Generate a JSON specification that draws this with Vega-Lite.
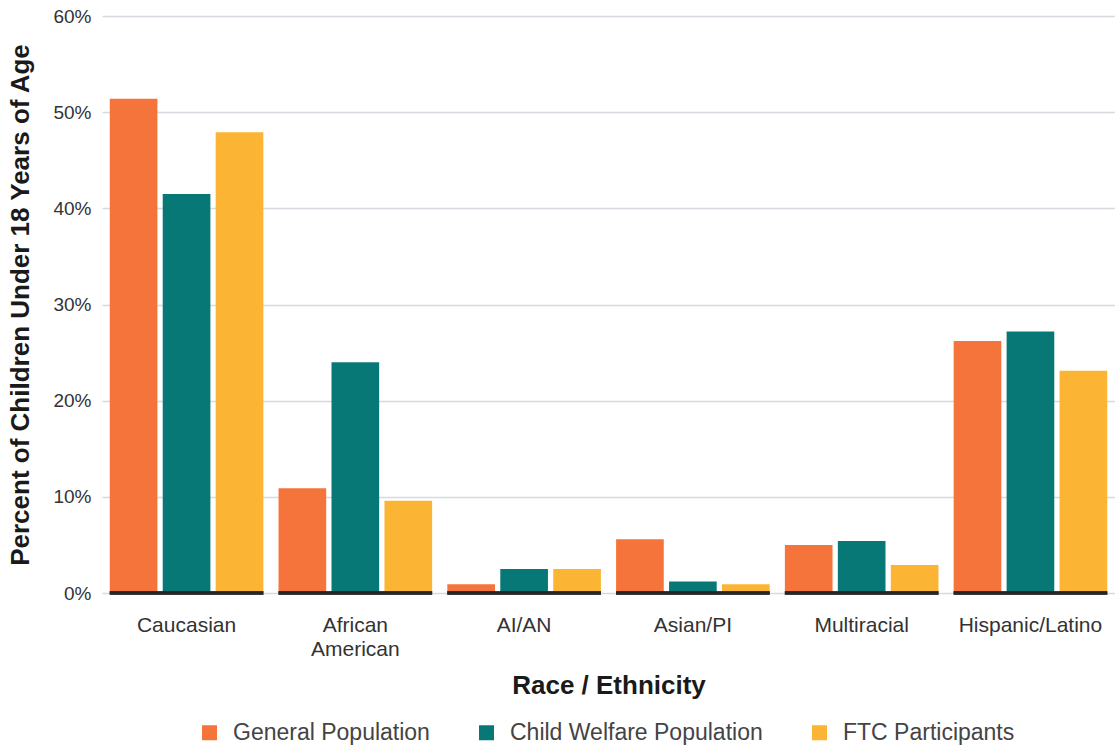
{
  "$schema": "https://vega.github.io/schema/vega-lite/v6.json",
  "autosize": "none",
  "width": 1013,
  "height": 577,
  "padding": {"left": 102, "top": 16, "right": 0, "bottom": 153},
  "background": "white",
  "config": {
    "font": "Liberation Sans",
    "view": {"stroke": null},
    "axis": {"labelColor": "#333333", "titleColor": "#1a1a1a"}
  },
  "data": {
    "values": [
      {"race": "Caucasian", "group": "General Population", "pct": 0.514},
      {"race": "Caucasian", "group": "Child Welfare Population", "pct": 0.415},
      {"race": "Caucasian", "group": "FTC Participants", "pct": 0.479},
      {"race": "African American", "group": "General Population", "pct": 0.109},
      {"race": "African American", "group": "Child Welfare Population", "pct": 0.240},
      {"race": "African American", "group": "FTC Participants", "pct": 0.096},
      {"race": "AI/AN", "group": "General Population", "pct": 0.009},
      {"race": "AI/AN", "group": "Child Welfare Population", "pct": 0.025},
      {"race": "AI/AN", "group": "FTC Participants", "pct": 0.025},
      {"race": "Asian/PI", "group": "General Population", "pct": 0.056},
      {"race": "Asian/PI", "group": "Child Welfare Population", "pct": 0.012},
      {"race": "Asian/PI", "group": "FTC Participants", "pct": 0.009},
      {"race": "Multiracial", "group": "General Population", "pct": 0.050},
      {"race": "Multiracial", "group": "Child Welfare Population", "pct": 0.054},
      {"race": "Multiracial", "group": "FTC Participants", "pct": 0.029},
      {"race": "Hispanic/Latino", "group": "General Population", "pct": 0.262},
      {"race": "Hispanic/Latino", "group": "Child Welfare Population", "pct": 0.272},
      {"race": "Hispanic/Latino", "group": "FTC Participants", "pct": 0.231}
    ]
  },
  "encoding": {
    "x": {
      "field": "race",
      "type": "nominal",
      "sort": ["Caucasian", "African American", "AI/AN", "Asian/PI", "Multiracial", "Hispanic/Latino"],
      "scale": {"paddingInner": 0.09, "paddingOuter": 0.046},
      "axis": {
        "title": "Race / Ethnicity",
        "labelAngle": 0,
        "labelFontSize": 21,
        "labelPadding": 21,
        "labelLineHeight": 24,
        "labelLimit": 0,
        "labelExpr": "datum.label == 'African American' ? ['African', 'American'] : datum.label",
        "ticks": false,
        "domain": false,
        "titleFontSize": 26,
        "titleFontWeight": "bold",
        "titlePadding": 13
      }
    }
  },
  "layer": [
    {
      "mark": {"type": "bar"},
      "encoding": {
        "xOffset": {
          "field": "group",
          "type": "nominal",
          "sort": ["General Population", "Child Welfare Population", "FTC Participants"],
          "scale": {"paddingInner": 0.1, "paddingOuter": 0}
        },
        "y": {
          "field": "pct",
          "type": "quantitative",
          "scale": {"domain": [0, 0.6], "nice": false},
          "axis": {
            "title": "Percent of Children Under 18 Years of Age",
            "format": ".0%",
            "values": [0, 0.1, 0.2, 0.3, 0.4, 0.5, 0.6],
            "labelFontSize": 19,
            "labelPadding": 11,
            "ticks": false,
            "domain": false,
            "gridColor": "#d4dae0",
            "gridWidth": 1.5,
            "titleFontSize": 26,
            "titleFontWeight": "bold",
            "titlePadding": 19
          }
        },
        "color": {
          "field": "group",
          "type": "nominal",
          "sort": ["General Population", "Child Welfare Population", "FTC Participants"],
          "scale": {
            "domain": ["General Population", "Child Welfare Population", "FTC Participants"],
            "range": ["#F4743B", "#087877", "#FBB433"]
          },
          "legend": {
            "title": null,
            "orient": "none",
            "legendX": 96,
            "legendY": 705,
            "direction": "horizontal",
            "symbolType": "square",
            "symbolSize": 225,
            "symbolStrokeWidth": 0,
            "labelFontSize": 23,
            "labelColor": "#444444",
            "labelOffset": 12,
            "labelLimit": 0,
            "columnPadding": 45
          }
        }
      }
    },
    {
      "mark": {"type": "tick", "orient": "horizontal", "size": 153.6, "thickness": 3.5, "color": "#222222"},
      "encoding": {
        "y": {"datum": 0, "type": "quantitative"}
      }
    }
  ]
}
